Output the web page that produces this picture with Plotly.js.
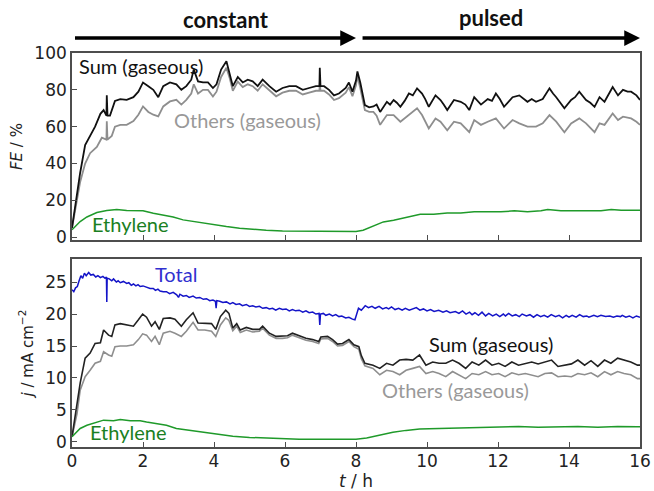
<!DOCTYPE html>
<html>
<head>
<meta charset="utf-8">
<script src="https://cdn.plot.ly/plotly-3.0.1.min.js"></script>
<style>html,body{margin:0;padding:0;background:#fff}#chart{width:654px;height:491px}</style>
</head>
<body>
<div id="chart"></div>
<script>
// ---- Data (time in h, value) ----
const feSumPts = [[0,5],[0.1,18],[0.23,35],[0.37,50],[0.51,55],[0.65,60],[0.8,67],[0.89,69],[0.97,66],[0.98,77],[1.0,66],[1.07,66],[1.21,74],[1.36,75],[1.54,74.6],[1.73,76],[1.87,79],[2.0,84],[2.15,82],[2.29,80],[2.43,76],[2.57,82],[2.76,84],[2.94,83],[3.08,80],[3.22,82],[3.36,85.5],[3.43,91],[3.55,84.6],[3.69,84],[3.83,84],[3.97,81],[4.07,83],[4.2,91],[4.35,95.5],[4.44,89],[4.53,82],[4.67,87],[4.81,84],[4.95,85.5],[5.09,84.6],[5.23,82],[5.37,85.5],[5.56,82],[5.75,79],[5.93,81],[6.12,82],[6.31,82],[6.5,80],[6.68,81],[6.87,82],[6.97,82],[6.98,92],[7.0,82],[7.1,82],[7.24,80],[7.38,77],[7.52,78],[7.71,81],[7.8,84],[7.9,79],[8.0,85],[8.04,90],[8.12,84],[8.25,71.7],[8.37,70.5],[8.49,71],[8.58,72],[8.68,68],[8.87,73.5],[8.96,72],[9.06,74.5],[9.15,73],[9.25,70.8],[9.37,74],[9.49,78],[9.6,77],[9.72,80.8],[9.86,78],[9.95,75],[10.05,70.8],[10.24,77],[10.38,74.5],[10.47,72],[10.57,69],[10.76,74.5],[10.95,73.5],[11.08,72],[11.19,69],[11.33,76],[11.52,72],[11.71,75],[11.83,74],[11.94,78],[12.05,75],[12.17,70.8],[12.41,76],[12.6,77],[12.72,75],[12.83,73.5],[12.95,75],[13.07,73.5],[13.26,75],[13.45,80.8],[13.55,78],[13.64,76],[13.87,70],[14.06,74.5],[14.17,76],[14.29,79],[14.48,74.5],[14.6,73],[14.72,70.8],[14.86,76],[15.0,73.5],[15.23,81.5],[15.38,77],[15.52,80],[15.65,79],[15.75,79],[15.9,77],[16.0,74.5]];
const feOthPts = [[0,5],[0.1,16],[0.23,30],[0.37,40],[0.51,45.6],[0.7,49],[0.84,54],[0.97,53],[0.98,63],[1.0,53],[1.12,55],[1.21,60],[1.36,61],[1.54,61],[1.73,63],[1.87,66.5],[2.0,71],[2.15,68],[2.29,66.5],[2.43,65.6],[2.57,71],[2.76,73.7],[2.94,74.6],[3.08,72],[3.22,74.6],[3.36,78],[3.43,83],[3.55,78],[3.69,80],[3.83,80],[3.97,76.4],[4.07,79],[4.2,87],[4.35,92],[4.44,86.5],[4.53,79.5],[4.67,84.5],[4.81,81.5],[4.95,83],[5.09,82],[5.23,79.5],[5.37,83],[5.56,79.5],[5.75,76.5],[5.93,78.5],[6.12,79.5],[6.31,79.5],[6.5,77.5],[6.68,78.5],[6.87,79.5],[6.97,79.5],[6.98,84],[7.0,79.5],[7.1,79.5],[7.24,77.5],[7.38,74.5],[7.52,75.5],[7.71,78.5],[7.8,81.5],[7.9,76.5],[8.0,82.5],[8.04,87.5],[8.12,81],[8.25,69],[8.37,68],[8.49,68],[8.58,66],[8.68,61],[8.87,66.3],[9.06,66.3],[9.25,62.7],[9.49,66.3],[9.72,70],[9.86,66.3],[10.05,59],[10.24,64.5],[10.38,62.7],[10.57,58],[10.76,62.7],[10.95,61.8],[11.19,57],[11.33,63.6],[11.52,61],[11.71,62.7],[11.94,64.5],[12.17,59],[12.41,63.6],[12.6,61.8],[12.83,60],[13.07,60],[13.26,61.8],[13.45,66.3],[13.64,62.7],[13.87,57],[14.06,61.8],[14.29,64.5],[14.48,61.8],[14.72,57],[14.86,61.8],[15.0,61],[15.23,67.2],[15.38,63.6],[15.52,65.4],[15.75,64.5],[15.9,62.7],[16.0,61]];
const feEthPts = [[0,4],[0.23,8.5],[0.42,11],[0.7,13.4],[0.98,14.5],[1.26,15],[1.54,14.5],[1.82,14.3],[2.0,14.3],[2.29,13],[2.57,12],[2.85,11],[3.13,9.4],[3.41,8.5],[3.69,7.6],[3.97,6.7],[4.35,5.8],[4.72,4.9],[5.09,4.2],[5.47,3.8],[5.93,3.4],[6.4,3.3],[6.96,3.3],[7.52,3.1],[8.0,3.1],[8.2,3.8],[8.49,6],[8.77,8.3],[9.06,9.2],[9.43,11],[9.81,12.5],[10.19,12.5],[10.57,13.2],[10.95,13.2],[11.33,13.8],[11.71,13.8],[12.08,13.8],[12.46,14.3],[12.83,13.8],[13.21,14.3],[13.4,15],[13.77,14.3],[14.15,14.3],[14.53,14.3],[14.9,14.3],[15.19,15],[15.47,14.6],[16.0,14.6]];

const jTotPts = [[0,23.8],[0.05,23.5],[0.1,24.1],[0.15,24.3],[0.2,25.2],[0.25,26.0],[0.3,25.6],[0.35,26.4],[0.4,26.0],[0.47,26.5],[0.53,26.1],[0.6,26.2],[0.67,25.8],[0.73,26.0],[0.8,25.7],[0.87,25.9],[0.93,25.6],[0.97,25.8],[0.98,21.9],[0.99,25.6],[1.05,25.5],[1.12,25.2],[1.17,25.5],[1.25,25.0],[1.3,25.2],[1.36,24.9],[1.45,25.1],[1.54,24.8],[1.6,24.9],[1.67,24.5],[1.73,24.7],[1.8,24.4],[1.86,24.6],[1.92,24.3],[2.0,24.4],[2.1,24.2],[2.2,24.0],[2.29,24.0],[2.35,23.7],[2.42,23.9],[2.48,23.6],[2.57,23.5],[2.66,23.5],[2.75,23.2],[2.85,23.4],[2.95,23.0],[3.0,22.6],[3.04,23.1],[3.13,22.8],[3.22,22.9],[3.3,22.6],[3.41,22.8],[3.5,22.5],[3.6,22.6],[3.7,22.3],[3.79,22.4],[3.88,22.1],[3.97,22.2],[4.04,22.0],[4.06,20.9],[4.08,22.1],[4.16,22.0],[4.25,21.8],[4.35,21.9],[4.45,21.6],[4.53,21.8],[4.62,21.5],[4.72,21.6],[4.8,21.3],[4.91,21.5],[5.0,21.2],[5.09,21.3],[5.18,21.1],[5.28,21.2],[5.37,20.9],[5.47,21.0],[5.56,20.8],[5.65,20.9],[5.74,20.6],[5.84,20.9],[5.93,20.7],[6.03,20.8],[6.12,20.5],[6.21,20.7],[6.3,20.5],[6.4,20.6],[6.5,20.3],[6.59,20.5],[6.68,20.2],[6.78,20.3],[6.87,20.0],[6.96,20.1],[6.98,18.3],[7.0,20.0],[7.08,20.1],[7.15,19.8],[7.25,20.0],[7.34,19.7],[7.43,19.9],[7.52,19.6],[7.6,19.7],[7.71,19.4],[7.8,19.5],[7.9,19.2],[7.97,19.1],[8.02,20.0],[8.07,20.9],[8.15,20.6],[8.26,21.3],[8.35,21.0],[8.45,21.2],[8.54,20.9],[8.65,21.2],[8.75,20.8],[8.85,21.0],[8.92,20.8],[9.0,21.1],[9.1,20.7],[9.2,20.9],[9.3,20.6],[9.39,20.9],[9.5,20.6],[9.6,20.8],[9.7,21.0],[9.8,20.6],[9.9,20.8],[10.0,20.5],[10.1,20.7],[10.2,20.4],[10.33,20.6],[10.45,20.3],[10.55,20.5],[10.65,20.2],[10.8,20.4],[10.9,20.1],[11.0,20.5],[11.1,20.0],[11.2,20.3],[11.27,19.9],[11.35,20.2],[11.45,19.8],[11.55,20.3],[11.65,19.7],[11.74,20.1],[11.85,19.7],[11.95,20.0],[12.05,19.6],[12.15,20.0],[12.21,19.7],[12.3,20.1],[12.4,19.7],[12.5,19.9],[12.6,19.6],[12.68,20.0],[12.8,19.7],[12.9,19.9],[13.0,19.5],[13.1,19.9],[13.2,19.6],[13.3,19.8],[13.4,19.5],[13.5,19.9],[13.62,19.6],[13.72,19.8],[13.82,19.4],[13.92,19.8],[14.0,19.5],[14.09,19.8],[14.2,19.5],[14.3,19.9],[14.4,19.6],[14.5,19.7],[14.56,19.5],[14.7,19.8],[14.8,19.6],[14.9,19.8],[15.03,19.6],[15.15,19.7],[15.25,19.5],[15.35,19.7],[15.45,19.6],[15.5,19.8],[15.6,19.5],[15.7,19.7],[15.8,19.4],[15.9,19.7],[16.0,19.5]];
const jSumPts = [[0,0.8],[0.14,5.5],[0.23,9.2],[0.37,13.1],[0.51,13.9],[0.65,15.4],[0.8,15.5],[0.89,17.5],[1.03,16.7],[1.12,16.5],[1.21,18.3],[1.36,18.5],[1.54,18.3],[1.73,18.1],[1.87,19.1],[1.99,20.0],[2.1,19.5],[2.24,18.1],[2.34,18.8],[2.46,17.6],[2.57,19.3],[2.76,19.4],[2.9,19.2],[3.08,18.1],[3.22,19.1],[3.41,20.2],[3.55,18.6],[3.74,18.5],[3.93,18.5],[4.05,17.6],[4.18,19.6],[4.33,20.6],[4.42,20.1],[4.53,17.8],[4.64,18.5],[4.74,17.5],[4.91,17.9],[5.09,17.6],[5.28,17.6],[5.37,18.1],[5.56,17.0],[5.75,16.5],[5.93,16.5],[6.07,16.6],[6.21,17.0],[6.4,16.6],[6.59,16.2],[6.78,16.0],[6.95,15.7],[7.01,16.4],[7.2,16.5],[7.34,16.0],[7.48,15.3],[7.62,15.4],[7.8,16.0],[7.94,15.2],[8.08,14.9],[8.15,13.5],[8.25,12.3],[8.48,12.0],[8.67,11.5],[8.86,12.3],[9.04,12.0],[9.23,12.8],[9.41,12.9],[9.6,12.8],[9.79,13.6],[9.97,12.0],[10.16,12.5],[10.34,12.3],[10.53,12.3],[10.72,12.8],[10.9,12.3],[11.09,11.5],[11.27,12.5],[11.46,12.0],[11.65,12.8],[11.83,12.0],[12.02,12.3],[12.2,11.8],[12.39,12.5],[12.58,12.0],[12.77,12.3],[12.95,12.5],[13.13,12.2],[13.32,12.5],[13.51,12.8],[13.69,11.8],[13.88,12.0],[14.07,12.2],[14.25,12.8],[14.44,12.0],[14.62,12.7],[14.81,11.8],[15.0,12.8],[15.18,12.3],[15.37,13.1],[15.55,12.8],[15.74,12.5],[15.93,12.0],[16.0,12.0]];
const jOthPts = [[0,0.8],[0.14,4.4],[0.23,8.1],[0.37,10.2],[0.51,11.2],[0.65,12.3],[0.8,12.6],[0.89,14.1],[1.03,13.6],[1.12,13.4],[1.21,14.9],[1.36,15.0],[1.54,15.0],[1.73,15.2],[1.87,16.0],[1.99,16.9],[2.1,16.7],[2.24,15.7],[2.34,16.5],[2.46,15.2],[2.57,17.0],[2.76,17.3],[2.9,17.0],[3.08,16.5],[3.22,17.3],[3.41,18.7],[3.55,17.5],[3.74,17.5],[3.93,17.3],[4.05,16.5],[4.18,18.3],[4.33,19.4],[4.42,19.0],[4.53,17.4],[4.64,18.1],[4.74,17.1],[4.91,17.5],[5.09,17.2],[5.28,17.3],[5.37,17.8],[5.56,16.7],[5.75,16.2],[5.93,16.2],[6.07,16.3],[6.21,16.7],[6.4,16.3],[6.59,15.9],[6.78,15.7],[6.95,15.4],[7.01,16.1],[7.2,16.2],[7.34,15.7],[7.48,15.0],[7.62,15.1],[7.8,15.7],[7.94,14.9],[8.08,14.5],[8.15,13.0],[8.25,11.9],[8.48,11.5],[8.67,10.5],[8.86,11.2],[9.04,11.0],[9.23,10.5],[9.41,11.2],[9.6,11.5],[9.79,11.8],[9.97,10.7],[10.16,11.0],[10.34,10.7],[10.53,10.2],[10.72,11.0],[10.9,10.5],[11.09,9.9],[11.27,10.7],[11.46,10.5],[11.65,11.0],[11.83,10.5],[12.02,10.7],[12.2,10.2],[12.39,10.8],[12.58,10.5],[12.77,10.7],[12.95,10.5],[13.13,10.2],[13.32,10.7],[13.51,10.8],[13.69,10.2],[13.88,10.3],[14.07,10.2],[14.25,10.7],[14.44,10.5],[14.62,10.8],[14.81,10.2],[15.0,11.0],[15.18,10.5],[15.37,11.0],[15.55,10.7],[15.74,10.5],[15.93,9.9],[16.0,9.9]];
const jEthPts = [[0,0.8],[0.23,2.1],[0.42,2.6],[0.7,3.1],[0.89,3.4],[1.17,3.3],[1.36,3.5],[1.64,3.3],[1.92,3.3],[2.1,3.1],[2.38,2.9],[2.66,2.6],[2.94,2.1],[3.22,1.9],[3.5,1.7],[3.79,1.4],[4.16,1.2],[4.53,0.9],[5.0,0.7],[5.47,0.6],[5.93,0.5],[6.4,0.4],[7.34,0.4],[8.0,0.4],[8.3,0.6],[8.67,1.1],[9.04,1.5],[9.41,1.8],[9.79,2.0],[10.34,2.1],[10.9,2.2],[11.46,2.3],[12.02,2.3],[12.58,2.4],[13.13,2.3],[13.69,2.4],[14.25,2.4],[14.81,2.3],[15.37,2.4],[15.93,2.35],[16.0,2.35]];

const xTicks = [0, 2, 4, 6, 8, 10, 12, 14, 16];
const feTicks = [0, 20, 40, 60, 80, 100];
const jTicks = [0, 5, 10, 15, 20, 25];

const xs = p => p.map(d => d[0]);
const ys = p => p.map(d => d[1]);

const cBlack = '#111111', cGray = '#8e8e8e', cGreen = '#1f9a2a', cBlue = '#1414c8';

const traces = [
  {x: xs(feOthPts), y: ys(feOthPts), xaxis: 'x2', yaxis: 'y', mode: 'lines', line: {color: cGray, width: 1.8}},
  {x: xs(feSumPts), y: ys(feSumPts), xaxis: 'x2', yaxis: 'y', mode: 'lines', line: {color: cBlack, width: 1.8}},
  {x: xs(feEthPts), y: ys(feEthPts), xaxis: 'x2', yaxis: 'y', mode: 'lines', line: {color: cGreen, width: 1.5}},
  {x: xs(jTotPts), y: ys(jTotPts), xaxis: 'x', yaxis: 'y2', mode: 'lines', line: {color: cBlue, width: 1.5}},
  {x: xs(jOthPts), y: ys(jOthPts), xaxis: 'x', yaxis: 'y2', mode: 'lines', line: {color: cGray, width: 1.6}},
  {x: xs(jSumPts), y: ys(jSumPts), xaxis: 'x', yaxis: 'y2', mode: 'lines', line: {color: '#222222', width: 1.6}},
  {x: xs(jEthPts), y: ys(jEthPts), xaxis: 'x', yaxis: 'y2', mode: 'lines', line: {color: cGreen, width: 1.5}}
];

const frame = '#4d4d4d';
const tickFont = {family: 'DejaVu Sans', size: 17, color: '#222'};
const axBase = {showline: true, linecolor: frame, linewidth: 1.8, mirror: true, ticks: 'inside', ticklen: 5, tickwidth: 1, tickcolor: frame, showgrid: false, zeroline: false, tickfont: tickFont};

const lblFont = (c) => ({family: 'Lato', size: 20, color: c});

const layout = {
  width: 654, height: 491,
  margin: {l: 72, r: 14, t: 53, b: 44},
  paper_bgcolor: '#fff', plot_bgcolor: '#fff',
  showlegend: false,
  xaxis: Object.assign({}, axBase, {range: [0, 16], tickvals: xTicks, anchor: 'y2', domain: [0, 1], ticklabelstandoff: -2,
    title: {text: '<i>t</i> / h', font: {family: 'DejaVu Sans', size: 17, color: '#222'}, standoff: 7}}),
  xaxis2: Object.assign({}, axBase, {range: [0, 16], tickvals: xTicks, anchor: 'y', matches: 'x', showticklabels: false}),
  yaxis: Object.assign({}, axBase, {range: [-1.6, 100], tickvals: feTicks, domain: [0.525, 1],
    title: {text: '<i>FE</i> / %', font: {family: 'DejaVu Sans', size: 15, color: '#222'}, standoff: 8}}),
  yaxis2: Object.assign({}, axBase, {range: [-0.8, 28.6], tickvals: jTicks, domain: [0, 0.477],
    title: {text: '<i>j</i> / mA cm<sup>−2</sup>', font: {family: 'DejaVu Sans', size: 15, color: '#222'}, standoff: 8}}),
  annotations: [
    {text: ' ', x: 8, y: 1.038, xref: 'x', yref: 'paper', ax: 0, axref: 'x', ay: 0, ayref: 'pixel', showarrow: true, arrowhead: 2, arrowsize: 0.9, arrowwidth: 3.5, arrowcolor: '#000'},
    {text: ' ', x: 16, y: 1.038, xref: 'x', yref: 'paper', ax: 8.1, axref: 'x', ay: 0, ayref: 'pixel', showarrow: true, arrowhead: 2, arrowsize: 0.9, arrowwidth: 3.5, arrowcolor: '#000'},
    {text: '<b>constant</b>', x: 4.35, y: 1.085, xref: 'x', yref: 'paper', yanchor: 'middle', showarrow: false, font: {family: 'Lato', size: 22, color: '#111'}},
    {text: '<b>pulsed</b>', x: 11.8, y: 1.09, xref: 'x', yref: 'paper', yanchor: 'middle', showarrow: false, font: {family: 'Lato', size: 22, color: '#111'}},
    {text: 'Sum (gaseous)', x: 0.15, y: 93, xref: 'x2', yref: 'y', xanchor: 'left', showarrow: false, font: lblFont('#111')},
    {text: 'Others (gaseous)', x: 2.82, y: 63.6, xref: 'x2', yref: 'y', xanchor: 'left', showarrow: false, font: lblFont('#999999')},
    {text: 'Ethylene', x: 0.5, y: 7, xref: 'x2', yref: 'y', xanchor: 'left', showarrow: false, font: lblFont('#1a7f22')},
    {text: 'Total', x: 2.28, y: 26.25, xref: 'x', yref: 'y2', xanchor: 'left', showarrow: false, font: lblFont('#3030d0')},
    {text: 'Sum (gaseous)', x: 10.0, y: 15.3, xref: 'x', yref: 'y2', xanchor: 'left', showarrow: false, font: lblFont('#111')},
    {text: 'Others (gaseous)', x: 8.68, y: 8.1, xref: 'x', yref: 'y2', xanchor: 'left', showarrow: false, font: lblFont('#999999')},
    {text: 'Ethylene', x: 0.45, y: 1.6, xref: 'x', yref: 'y2', xanchor: 'left', showarrow: false, font: lblFont('#1a7f22')}
  ]
};

Plotly.newPlot('chart', traces, layout, {staticPlot: true, displayModeBar: false});
</script>
</body>
</html>
